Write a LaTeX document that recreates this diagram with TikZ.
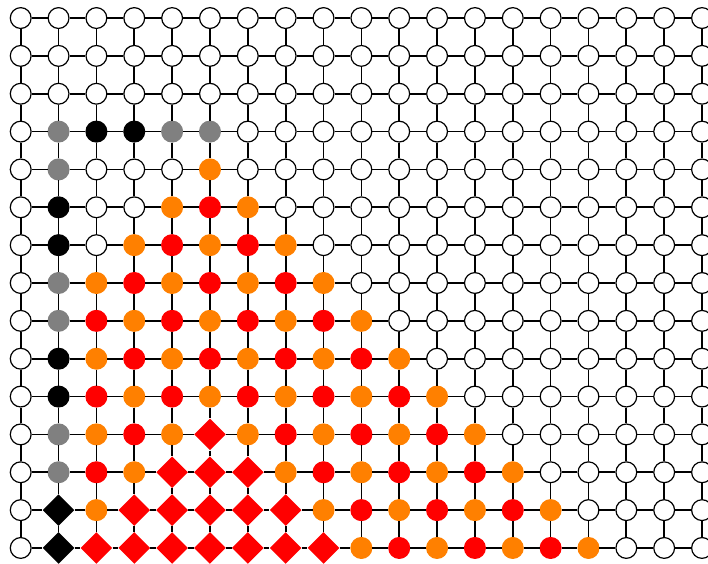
\documentclass[tikz,border=0pt]{standalone}
\usetikzlibrary{shapes.geometric}
\definecolor{myorange}{HTML}{FF8000}
\definecolor{myred}{HTML}{FF0000}
\definecolor{mygray}{HTML}{808080}
\tikzset{
  cnode/.style={circle,inner sep=0pt,minimum size=0.55cm,line width=0.9pt},
  wn/.style={cnode,draw=black,fill=white},
  on/.style={cnode,draw=myorange,fill=myorange},
  rn/.style={cnode,draw=myred,fill=myred},
  gn/.style={cnode,draw=mygray,fill=mygray},
  bn/.style={cnode,draw=black,fill=black},
  dnode/.style={diamond,aspect=1,inner sep=0pt,minimum width=0.84cm,minimum height=0.84cm},
  rd/.style={dnode,fill=myred},
  bd/.style={dnode,fill=black},
  edge/.style={draw=black,line width=1.3pt}
}
\begin{document}
\begin{tikzpicture}
\clip (-0.547,-0.423) rectangle (18.158,14.477);
\useasboundingbox (-0.547,-0.423) rectangle (18.158,14.477);
\foreach \c in {1,...,19}{
  \foreach \r in {1,...,15}{
    \pgfmathtruncatemacro\m{mod(\r,4)}
    \pgfmathtruncatemacro\p{mod(\r+\c,2)}
    \def\st{wn}
    \ifnum\c=2 \ifnum\r>3 \ifnum\m<2 \def\st{gn}\else\def\st{bn}\fi\ifnum\r>13 \def\st{bd}\fi\fi\fi
    \ifnum\r=4 \ifnum\c>2 \ifnum\c<7 \ifnum\c<5 \def\st{bn}\else\def\st{gn}\fi\fi\fi\fi
    \ifnum\r>4 \ifnum\c>2 \ifnum\numexpr\c+\r\relax>10 \ifnum\c<\numexpr\r+2\relax
      \ifnum\p=1 \def\st{on}\else\def\st{rn}\fi
      \ifnum\r>11 \ifnum\numexpr\c+\r\relax>17 \ifnum\c<\numexpr\r-5\relax \def\st{rd}\fi\fi\fi
    \fi\fi\fi\fi
    \node[\st] (n-\c-\r) at ({\c-1},{15-\r}) {};
  }
}
\foreach \c in {1,...,18}{
  \foreach \r in {1,...,15}{
    \pgfmathtruncatemacro\cn{\c+1}
    \draw[edge] (n-\c-\r) -- (n-\cn-\r);
  }
}
\foreach \c in {1,...,19}{
  \foreach \r in {1,...,14}{
    \pgfmathtruncatemacro\rn{\r+1}
    \draw[edge] (n-\c-\r) -- (n-\c-\rn);
  }
}
\end{tikzpicture}
\end{document}
